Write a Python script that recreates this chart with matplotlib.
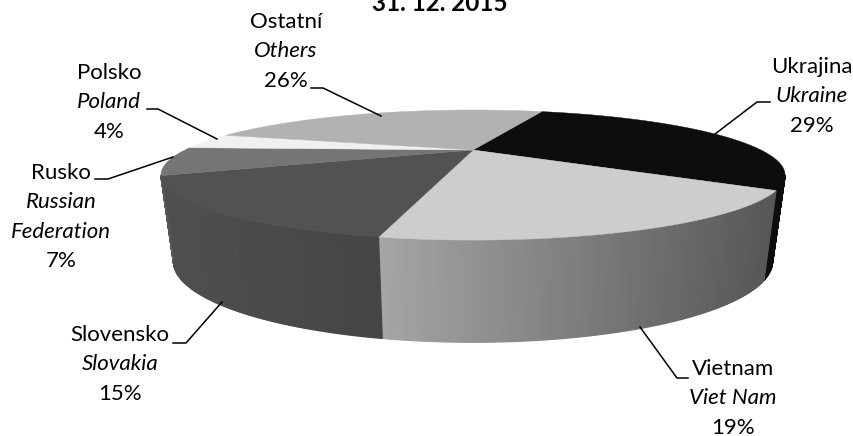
import numpy as np
import matplotlib
matplotlib.use("Agg")
import matplotlib.pyplot as plt

plt.rcParams['font.family'] = ['Lato', 'DejaVu Sans']

# share of each group, clockwise from the Others/Ukraine edge
names_cz = ['Ukrajina', 'Vietnam', 'Slovensko', 'Rusko', 'Polsko', 'Ostatní']
names_en = ['Ukraine', 'Viet Nam', 'Slovakia', 'Russian\nFederation', 'Poland', 'Others']
shares = [29.4, 18.6, 15.3, 7.1, 4.1, 25.5]
title = '31. 12. 2015'

top_cols = ['#0d0d0d', '#cdcdcd', '#525252', '#757575', '#f0f0f0', '#b2b2b2']
# wall grey at the start and the end of each slice
wall_cols = [(0.05, 0.05), (0.34, 0.65), (0.27, 0.31), (0.35, 0.35), (0.8, 0.8), (0.6, 0.6)]

START = 19.0
K = 0.385


def rim(theta, cx=473, cy=150, a=288, b=55.4):
    # perspective circle, theta clockwise from the back of the pie
    t = np.radians(theta)
    u, v = np.sin(t), -np.cos(t)
    w = 1 - K * v
    return cx + a * u / w, cy + b * v / w


def rim_low(theta):
    return rim(theta, cy=230, a=288 * 0.96, b=55.4 * 1.246)


fig = plt.figure(figsize=(8.54, 4.36), dpi=100)
ax = fig.add_axes([0, 0, 1, 1])
ax.set_xlim(0, 854)
ax.set_ylim(436, 0)
ax.axis('off')

edges = START + np.cumsum([0] + shares) * 3.6
# the wall is only seen between these two angles
vis0 = np.degrees(np.arccos(-K))
vis1 = 360 - vis0

for i in range(len(shares)):
    t0, t1 = max(edges[i], vis0), min(edges[i + 1], vis1)
    if t1 <= t0:
        continue
    n = max(2, int((t1 - t0) * 2))
    ts = np.linspace(t0, t1, n + 1)
    g0, g1 = wall_cols[i]
    x_a, x_b = rim(t0)[0], rim(t1)[0]
    for j in range(n):
        x1, y1 = rim(ts[j])
        x2, y2 = rim(ts[j + 1])
        x3, y3 = rim_low(ts[j + 1])
        x4, y4 = rim_low(ts[j])
        g = g0 + (g1 - g0) * (x1 - x_a) / (x_b - x_a)
        ax.fill([x1, x2, x3, x4], [y1, y2, y3, y4], color=(g, g, g), lw=0.9, zorder=2)

for i in range(len(shares)):
    ts = np.linspace(edges[i], edges[i + 1], 120)
    xs, ys = rim(ts)
    ax.fill(np.r_[473, xs], np.r_[150, ys], color=top_cols[i], lw=0.3, zorder=3)

# labels: czech, english, percent
label_pos = [(812, 67), (733, 369), (120, 335), (61, 173), (109, 73), (286, 22)]
STEP = 29.3
for i in range(len(shares)):
    x, y = label_pos[i]
    ax.text(x, y, names_cz[i], ha='center', va='center', fontsize=16, color='black', zorder=5)
    y += STEP
    for r in names_en[i].split('\n'):
        ax.text(x, y, r, style='italic', ha='center', va='center', fontsize=16, color='black', zorder=5)
        y += STEP
    ax.text(x, y, f'{round(shares[i])}%', ha='center', va='center', fontsize=16, color='black', zorder=5)

ax.text(440, 11, title, ha='center', va='baseline', fontsize=17.5, fontweight='bold', color='black', clip_on=False)

leaders = [
    ([770, 757, 715], [102, 102, 134]),
    ([640, 677, 688], [327, 378, 378]),
    ([173, 186, 222], [343, 343, 302]),
    ([95, 108, 173], [179, 179, 157]),
    ([147, 158, 217], [109, 109, 139]),
    ([311, 323, 381], [88, 88, 116]),
]
for lx, ly in leaders:
    ax.plot(lx, ly, color='black', lw=1.1, zorder=4, solid_joinstyle='miter')

fig.savefig('out.png', dpi=100)
